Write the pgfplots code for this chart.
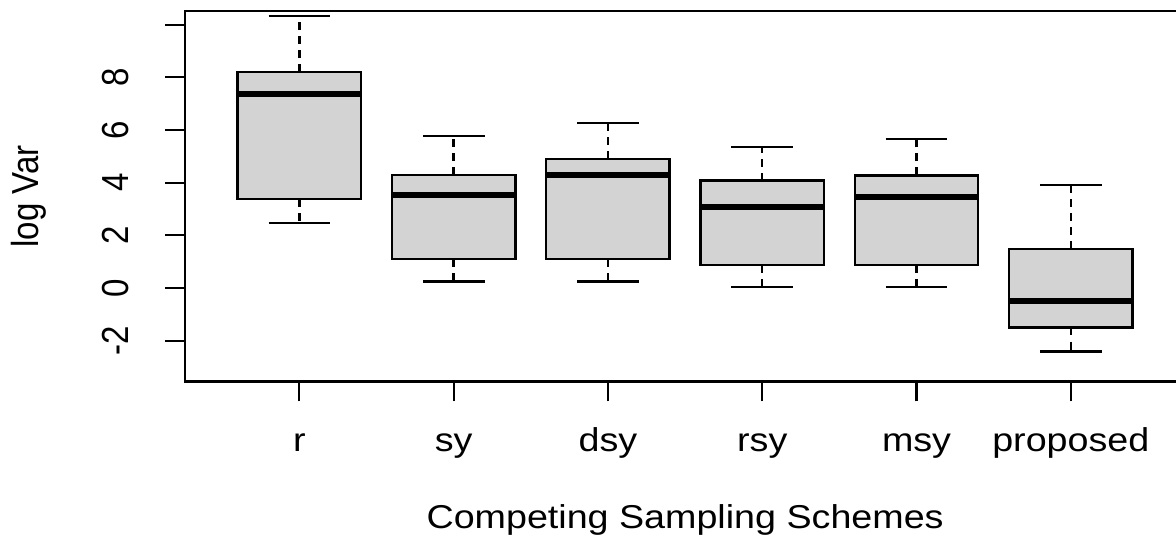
\documentclass[border=0pt]{standalone}
\usepackage{pgfplots}
\pgfplotsset{compat=1.18}
\usepgfplotslibrary{statistics}
\usepackage{fontspec}
\setmainfont{Liberation Sans}
\definecolor{boxgray}{HTML}{D3D3D3}
\newcommand{\rfont}{\fontsize{16.5}{19.8}\selectfont}

% R-style box: grey box, thick median, dashed whisker with solid cap
\pgfplotsset{
  rbox/.style={
    black, line width=1.2pt,
    boxplot/draw direction=y,
    boxplot/box extend=0.8,
    boxplot/whisker extend=0.4,
    boxplot/every box/.style={draw=black, fill=boxgray, line width=1.2pt},
    boxplot/every median/.style={line width=3pt},
    boxplot/draw/whisker/.code 2 args={
      \draw[black, line width=1.2pt, dash pattern=on 4pt off 3pt]
        (boxplot cs:##1) -- (boxplot cs:##2);
      \draw[black, line width=1.1pt]
        (boxplot whisker cs:##2,0) -- (boxplot whisker cs:##2,1);
    },
  },
}

\begin{document}
\begin{tikzpicture}
\useasboundingbox (-92.5pt,-77.5pt) rectangle (494.8pt,190.5pt);
\begin{axis}[
  at={(0pt,0pt)}, anchor=south west,
  scale only axis, width=499.3pt, height=185pt,
  xmin=0.26, xmax=6.74, ymin=-3.55, ymax=10.52,
  axis line style={line width=1.1pt},
  tick align=outside, xtick pos=bottom, ytick pos=left,
  major tick length=10pt,
  every tick/.style={black, line width=1.1pt},
  xtick={1,2,3,4,5,6}, xticklabels={r,sy,dsy,rsy,msy,proposed},
  ytick={-2,0,2,4,6,8,10}, yticklabels={-2,0,2,4,6,8,{}},
  minor tick num=0,
  xticklabel style={font=\rfont, anchor=base, yshift=-25pt, xscale=1.14},
  yticklabel style={font=\rfont, xshift=-18pt, xscale=1.14, rotate=90, anchor=south, inner sep=0pt},
  xlabel={Competing Sampling Schemes},
  ylabel={log Var},
  every axis x label/.style={at={(axis description cs:0.5,0)}, yshift=-73.4pt, xscale=1.14, anchor=base, font=\rfont},
  every axis y label/.style={at={(axis description cs:0,0.5)}, xshift=-73.5pt, xscale=1.14, rotate=90, anchor=base, font=\rfont},
  clip=false,
]
% r
\addplot[rbox, boxplot prepared={draw position=1,
  lower whisker=2.48, lower quartile=3.38, median=7.35,
  upper quartile=8.20, upper whisker=10.34}] coordinates {};
% sy
\addplot[rbox, boxplot prepared={draw position=2,
  lower whisker=0.25, lower quartile=1.10, median=3.54,
  upper quartile=4.30, upper whisker=5.76}] coordinates {};
% dsy
\addplot[rbox, boxplot prepared={draw position=3,
  lower whisker=0.25, lower quartile=1.10, median=4.30,
  upper quartile=4.90, upper whisker=6.27}] coordinates {};
% rsy
\addplot[rbox, boxplot prepared={draw position=4,
  lower whisker=0.03, lower quartile=0.88, median=3.07,
  upper quartile=4.08, upper whisker=5.36}] coordinates {};
% msy
\addplot[rbox, boxplot prepared={draw position=5,
  lower whisker=0.03, lower quartile=0.88, median=3.46,
  upper quartile=4.28, upper whisker=5.66}] coordinates {};
% proposed
\addplot[rbox, boxplot prepared={draw position=6,
  lower whisker=-2.41, lower quartile=-1.50, median=-0.50,
  upper quartile=1.49, upper whisker=3.92}] coordinates {};
\end{axis}
\end{tikzpicture}
\end{document}
